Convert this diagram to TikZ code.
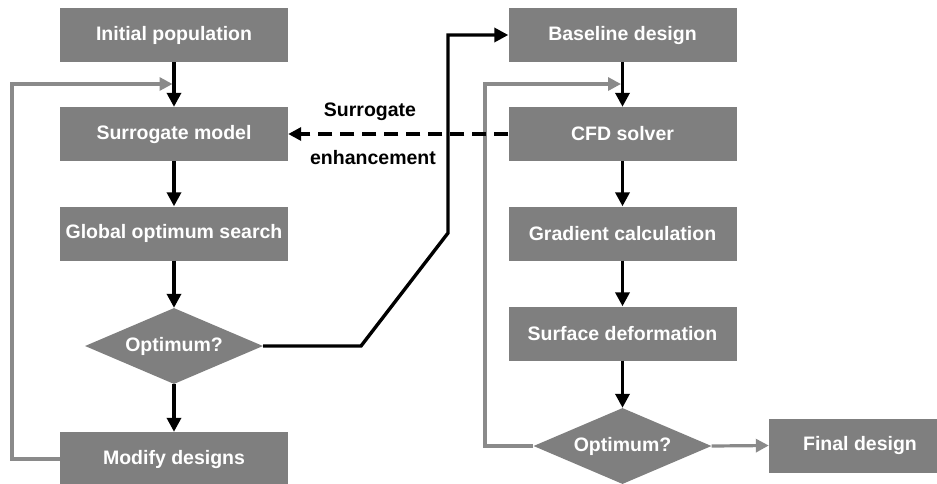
\documentclass[tikz,border=0pt]{standalone}
\usepackage{fontspec}
\setmainfont{Liberation Sans}
\usetikzlibrary{arrows.meta,shapes.geometric}
\definecolor{boxgrey}{HTML}{7F7F7F}
\definecolor{loopgrey}{HTML}{8A8A8A}
\tikzset{
  procbox/.style={rectangle, fill=boxgrey, text=white, font=\fontsize{19.5}{22}\selectfont\bfseries,
    minimum width=228pt, minimum height=54pt, inner sep=0pt},
  decision/.style={diamond, aspect=2.34, fill=boxgrey, text=white, font=\fontsize{19.5}{22}\selectfont\bfseries,
    minimum width=178pt, minimum height=76pt, inner sep=0pt},
  flow/.style={draw=black, line width=3.4pt, -{Triangle[length=14pt,width=14pt]}},
  loopback/.style={draw=loopgrey, line width=3.2pt, -{Triangle[length=13pt,width=13pt]}},
  enhance/.style={draw=black, line width=3.4pt, dash pattern=on 14pt off 8pt, -{Triangle[length=13pt,width=13pt]}},
  tag/.style={text=black, font=\fontsize{19.5}{22}\selectfont\bfseries, inner sep=0pt}
}
\begin{document}
\begin{tikzpicture}[x=1pt,y=-1pt]
\useasboundingbox (0,0) rectangle (937,483);

% surrogate-based global loop
\node[procbox] (init) at (174,35)  {Initial population};
\node[procbox] (surr) at (174,134) {Surrogate model};
\node[procbox] (glob) at (174,233.5) {Global optimum search};
\node[decision] (opt1) at (174,346) {Optimum?};
\node[procbox] (mod)  at (174,459) {Modify designs};

% gradient-based local loop
\node[procbox] (base) at (622.5,35)  {Baseline design};
\node[procbox] (cfd)  at (622.5,134) {CFD solver};
\node[procbox] (grad) at (622.5,233.5) {Gradient calculation};
\node[procbox] (surf) at (622.5,333.5) {Surface deformation};
\node[decision] (opt2) at (622.5,446) {Optimum?};
\node[procbox, minimum width=182pt] (final) at (860,445.5) {Final design};

% main flow
\draw[flow] (init) -- (surr);
\draw[flow] (surr) -- (glob);
\draw[flow] (glob) -- (opt1);
\draw[flow] (opt1) -- (mod);
\draw[flow] (base) -- (cfd);
\draw[flow] (cfd)  -- (grad);
\draw[flow] (grad) -- (surf);
\draw[flow] (surf) -- (opt2);

% hand-over from global to local search
\coordinate (hk1) at (361,346);
\coordinate (hk2) at (448,233);
\draw[flow, line join=miter] (opt1.east) -- (hk1) -- (hk2) |- (base.west);

% feedback loops
\coordinate (lcorner) at (12,84);
\coordinate (ljoin) at (172.5,84);
\draw[loopback] (mod.west) -| (lcorner) -- (ljoin);
\coordinate (rcorner) at (485,84);
\coordinate (rjoin) at (621,84);
\draw[loopback] (opt2.west) -| (rcorner) -- (rjoin);
\draw[loopback] (opt2.east) -- (final.west);

% surrogate enhancement
\draw[enhance] (cfd.west) -- (surr.east);
\node[tag] (lblA) at (370,112) {Surrogate};
\node[tag] (lblB) at (373,158) {enhancement};
\end{tikzpicture}
\end{document}
